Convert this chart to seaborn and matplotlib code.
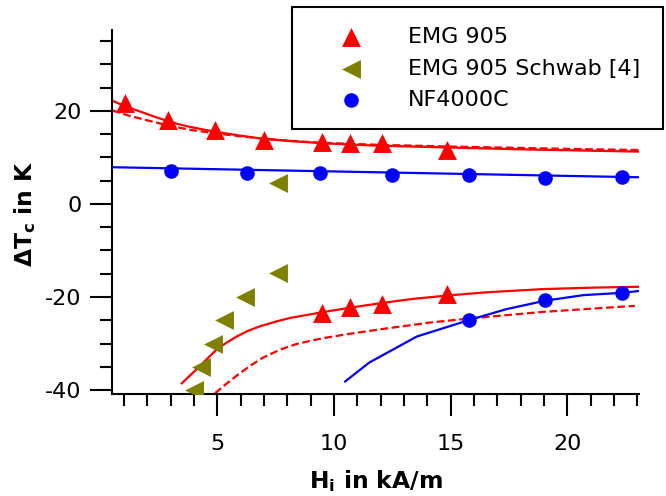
import matplotlib
matplotlib.use("Agg")
import matplotlib.pyplot as plt
import seaborn as sns
from matplotlib.ticker import MultipleLocator
from matplotlib.patches import Rectangle

# --- measured points -------------------------------------------------------
# EMG 905 (red triangles): heating branch (positive) and cooling branch (negative)
h_emg = [1.05, 2.9, 4.9, 7.0, 9.5, 10.7, 12.05, 14.85]
dt_emg_up = [21.8, 18.1, 15.9, 13.8, 13.3, 13.05, 13.05, 11.5]
h_emg_low = [9.5, 10.7, 12.05, 14.85]
dt_emg_low = [-23.4, -22.2, -21.4, -19.4]

# EMG 905 data from Schwab [4] (olive left triangles)
h_schwab = [4.0, 4.3, 4.8, 5.3, 6.2, 7.6, 7.6]
dt_schwab = [-40.0, -35.0, -30.0, -24.9, -19.9, -14.9, 4.5]

# NF4000C (blue circles)
h_nf = [3.0, 6.25, 9.4, 12.5, 15.8, 19.05, 22.35]
dt_nf_up = [7.15, 6.75, 6.75, 6.25, 6.25, 5.65, 5.7]
h_nf_low = [15.8, 19.05, 22.35]
dt_nf_low = [-25.0, -20.7, -19.1]

# --- model curves ----------------------------------------------------------
fit_emg_up_h = [0.5, 1.05, 1.5, 1.9, 2.4, 2.83, 3.3, 3.76, 4.3, 4.83, 5.9, 6.97,
                8.2, 9.54, 11.5, 14.83, 18.0, 20.5, 23.1]
fit_emg_up_t = [22.2, 21.0, 20.2, 19.5, 18.6, 17.9, 17.2, 16.65, 16.1, 15.6, 14.75, 14.0,
                13.5, 13.05, 12.6, 12.15, 11.75, 11.5, 11.25]

fit_emg_up_d_h = [0.5, 1.2, 1.9, 2.83, 3.76, 4.83, 5.9, 7.0, 8.2, 9.5, 12.0, 15.0,
                  17.0, 20.0, 23.1]
fit_emg_up_d_t = [20.1, 19.0, 18.1, 16.95, 16.0, 15.25, 14.6, 14.05, 13.55, 13.15, 12.7, 12.35,
                  12.15, 11.85, 11.6]

fit_emg_low_h = [3.47, 3.8, 4.12, 4.5, 4.97, 5.4, 5.83, 6.3, 6.83, 7.5, 8.12, 8.8,
                 9.47, 10.69, 12.05, 13.4, 14.83, 16.5, 18.97, 21.0, 23.09]
fit_emg_low_t = [-38.6, -37.0, -35.5, -33.6, -31.3, -29.8, -28.5, -27.3, -26.3, -25.3, -24.5, -23.9,
                 -23.3, -22.3, -21.3, -20.4, -19.7, -19.0, -18.3, -18.0, -17.8]

fit_emg_low_d_h = [4.9, 5.4, 5.83, 6.4, 6.97, 7.7, 8.4, 9.1, 9.83, 10.69, 12.05, 14.1,
                   15.83, 18.97, 22.9]
fit_emg_low_d_t = [-40.7, -38.6, -36.9, -34.8, -33.0, -31.3, -30.1, -29.3, -28.6, -27.9, -26.9, -25.5,
                   -24.6, -23.2, -21.9]

fit_nf_up_h = [0.5, 23.1]
fit_nf_up_t = [7.9, 5.74]

fit_nf_low_h = [10.47, 11.51, 13.55, 15.83, 17.4, 19.05, 20.69, 22.36, 23.09]
fit_nf_low_t = [-38.2, -34.1, -28.5, -24.9, -22.6, -20.8, -19.6, -19.1, -18.7]

RED = "#ff0000"
BLUE = "#0000ff"
OLIVE = "#808000"

sns.set_style("ticks", rc={"text.color": "black", "axes.labelcolor": "black",
                           "xtick.color": "black", "ytick.color": "black",
                           "axes.edgecolor": "black"})
plt.rcParams["font.family"] = ["DejaVu Sans"]
plt.rcParams["mathtext.fontset"] = "dejavusans"
plt.rcParams["axes.unicode_minus"] = False

fig = plt.figure(figsize=(6.66, 4.96), dpi=100)
ax = fig.add_axes([0.1677, 0.2056, 0.7922, 0.7339])

dash = (0, (3.5, 1.6))
line_kw = dict(ax=ax, estimator=None, sort=False, lw=1.6)
sns.lineplot(x=fit_emg_up_h, y=fit_emg_up_t, color=RED, **line_kw)
sns.lineplot(x=fit_emg_up_d_h, y=fit_emg_up_d_t, color=RED, linestyle=dash, **line_kw)
sns.lineplot(x=fit_emg_low_h, y=fit_emg_low_t, color=RED, **line_kw)
sns.lineplot(x=fit_emg_low_d_h, y=fit_emg_low_d_t, color=RED, linestyle=dash, **line_kw)
sns.lineplot(x=fit_nf_up_h, y=fit_nf_up_t, color=BLUE, **line_kw)
sns.lineplot(x=fit_nf_low_h, y=fit_nf_low_t, color=BLUE, **line_kw)

pt_kw = dict(ax=ax, linewidth=0, zorder=3)
TRI = 185
DOT = 110
sns.scatterplot(x=h_emg, y=dt_emg_up, marker="^", s=TRI, color=RED, label="EMG 905", **pt_kw)
sns.scatterplot(x=h_emg_low, y=dt_emg_low, marker="^", s=TRI, color=RED, **pt_kw)
sns.scatterplot(x=h_schwab, y=dt_schwab, marker="<", s=TRI, color=OLIVE,
                label="EMG 905 Schwab [4]", **pt_kw)
sns.scatterplot(x=h_nf, y=dt_nf_up, marker="o", s=DOT, color=BLUE, label="NF4000C", **pt_kw)
sns.scatterplot(x=h_nf_low, y=dt_nf_low, marker="o", s=DOT, color=BLUE, **pt_kw)

ax.set_xlim(0.47, 23.09)
ax.set_ylim(-40.86, 37.4)
ax.xaxis.set_major_locator(MultipleLocator(5))
ax.xaxis.set_minor_locator(MultipleLocator(1))
ax.yaxis.set_major_locator(MultipleLocator(20))
ax.yaxis.set_minor_locator(MultipleLocator(5))

sns.despine(ax=ax)
for side in ("left", "bottom"):
    ax.spines[side].set_linewidth(1.5)
    ax.spines[side].set_color("black")
ax.tick_params(which="major", length=15.5, width=1.5, labelsize=16,
               color="black", labelcolor="black", direction="out")
ax.tick_params(which="minor", length=8.5, width=1.5, color="black", direction="out")
ax.tick_params(axis="x", which="major", pad=13)
ax.tick_params(axis="y", which="major", pad=6)
ax.set_xlabel("")
ax.set_ylabel("")

# axis titles
fig.text(375.5 / 666, 1 - 488.3 / 496, r"H$_\mathbf{i}$ in kA/m", fontsize=16.8,
         fontweight="bold", ha="center", va="baseline", color="black")
fig.text(32 / 666, 1 - 214 / 496, r"ΔT$_\mathbf{c}$ in K", fontsize=16.8,
         fontweight="bold", rotation=90, rotation_mode="anchor",
         ha="center", va="baseline", color="black")

# legend with a square black box
handles, labels = ax.get_legend_handles_labels()
ax.get_legend().remove()
fig.add_artist(Rectangle((292.3 / 666, 1 - 129.3 / 496), (663 - 292.3) / 666,
                         (129.3 - 6.7) / 496, transform=fig.transFigure,
                         facecolor="white", edgecolor="black", lw=1.5, zorder=1))
fig.legend(handles, labels, loc="upper left",
           bbox_to_anchor=(329 / 666, 1 - 27 / 496), bbox_transform=fig.transFigure,
           frameon=False, fontsize=16, handlelength=2.0, handletextpad=1.57,
           borderpad=0, borderaxespad=0, labelspacing=0.52, scatterpoints=1,
           labelcolor="black")

fig.savefig("out.png", dpi=100)
